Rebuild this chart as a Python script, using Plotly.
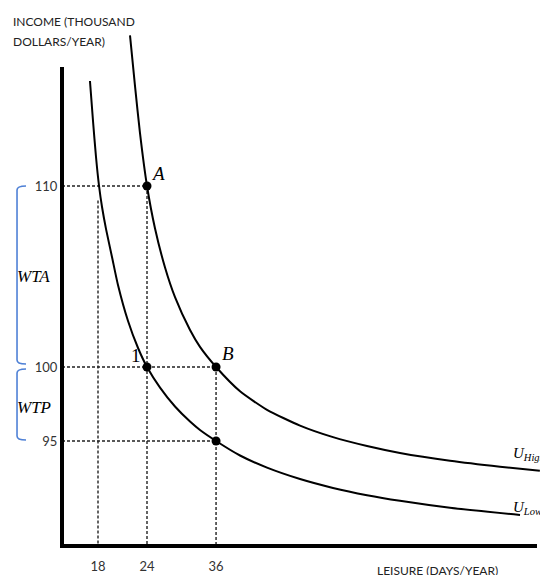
import numpy as np
import plotly.graph_objects as go

# ---------------- data ----------------
# Leisure (days/year) and income (thousand $/year) along each indifference curve
HIGH_DAYS = [21.72, 22.37, 23.03, 24.0, 25.15, 26.68, 28.29, 30.90, 32.76, 36.0,
             41.44, 48.56, 58.94, 71.54, 87.35, 106.0, 142.2, 190.7, 241.0]
HIGH_INCOME = [118.32, 115.52, 112.93, 110.0, 107.67, 105.50, 103.86, 102.04, 101.11, 100.0,
               98.36, 97.11, 96.04, 95.26, 94.66, 94.19, 93.66, 93.26, 92.99]
LOW_DAYS = [17.17, 17.48, 17.79, 18.11, 18.43, 18.87, 19.54, 20.24, 21.47, 22.77, 24.0,
            25.91, 28.29, 30.90, 32.76, 36.0, 41.44, 48.56, 58.94, 71.54, 87.35, 106.0,
            142.2, 214.5]
LOW_INCOME = [115.80, 113.59, 111.60, 110.0, 108.84, 107.62, 106.08, 104.53, 102.54, 101.05, 100.0,
              98.61, 97.33, 96.31, 95.74, 95.0, 94.02, 93.20, 92.43, 91.83, 91.34, 90.96,
              90.49, 90.0]

POINT_LABELS = ["A", "1", "B", ""]
POINT_DAYS = [24, 24, 36, 36]
POINT_INCOME = [110, 100, 100, 95]

X_TICKS = [18, 24, 36]
Y_TICKS = [110, 100, 95]

# guide lines: horizontal (income -> days where it stops), vertical (days -> top income)
GUIDE_H = [(110, 24), (100, 36), (95, 36)]
GUIDE_V = [(18, 109.2), (24, 110), (36, 100)]

# ---------------- scales ----------------
X_MIN, X_MAX = 14.57, 241.2
Y_RANGE = [0, 546]


def ys(v):
    """Schematic (two-slope) income scale used by the diagram."""
    v = np.asarray(v, dtype=float)
    return 179 + np.where(v >= 100, (v - 100) * 18.1, (v - 100) * 14.8)


def ypaper(v):
    return float(ys(v)) / Y_RANGE[1]


def xpaper_px(px):
    return (px - 62) / 478.0


fig = go.Figure()

# guide lines (dashed)
for inc, d in GUIDE_H:
    fig.add_trace(go.Scatter(x=[X_MIN, d], y=ys([inc, inc]), mode="lines",
                             line=dict(color="#222", width=1.4, dash="3px,2px"),
                             hoverinfo="skip"))
for d, inc in GUIDE_V:
    fig.add_trace(go.Scatter(x=[d, d], y=[float(ys(inc)), Y_RANGE[0]], mode="lines",
                             line=dict(color="#222", width=1.4, dash="3px,2px"),
                             hoverinfo="skip"))

# indifference curves
for dd, ii in [(HIGH_DAYS, HIGH_INCOME), (LOW_DAYS, LOW_INCOME)]:
    fig.add_trace(go.Scatter(x=dd, y=ys(ii), mode="lines",
                             line=dict(color="black", width=2, shape="spline", smoothing=0.6),
                             hoverinfo="skip"))

# points
fig.add_trace(go.Scatter(x=POINT_DAYS, y=ys(POINT_INCOME), mode="markers",
                         marker=dict(color="black", size=9), hoverinfo="skip"))

serif = "Liberation Serif"
label_offsets = {"A": (2, 0, "left"), "1": (-4, -1, "right"), "B": (4, 1, "left")}
for lab, d, inc in zip(POINT_LABELS, POINT_DAYS, POINT_INCOME):
    if not lab:
        continue
    xs, ysh, anc = label_offsets[lab]
    fig.add_annotation(x=np.log10(d), y=float(ys(inc)), text=lab if lab == "1" else f"<i>{lab}</i>",
                       showarrow=False, xanchor=anc, yanchor="bottom", xshift=xs, yshift=ysh,
                       font=dict(family=serif, size=19, color="black"))

# curve labels
fig.add_annotation(x=np.log10(203), y=float(ys(94.1)), text="<i>U<sub>High</sub></i>",
                   showarrow=False, xanchor="left", yanchor="middle",
                   font=dict(family=serif, size=15, color="black"))
fig.add_annotation(x=np.log10(203), y=float(ys(90.5)), text="<i>U<sub>Low</sub></i>",
                   showarrow=False, xanchor="left", yanchor="middle",
                   font=dict(family=serif, size=15, color="black"))

# axes lines (thick)
fig.add_shape(type="path", xref="paper", yref="paper",
              path=f"M 0,{(546-67)/546:.4f} L 0,0 L {xpaper_px(537):.4f},0",
              line=dict(color="black", width=4))

# braces for WTA / WTP
blue = "#4f81d6"
xl, xh = xpaper_px(17), xpaper_px(26)
r = 4 / 546
for top, bot in [(ypaper(110), ypaper(100) + 3 / 546), (ypaper(100) - 2 / 546, ypaper(95) + 1 / 546)]:
    fig.add_shape(type="path", xref="paper", yref="paper",
                  path=(f"M {xh:.4f},{top:.4f} Q {xl:.4f},{top:.4f} {xl:.4f},{top - r:.4f} "
                        f"L {xl:.4f},{bot + r:.4f} Q {xl:.4f},{bot:.4f} {xh:.4f},{bot:.4f}"),
                  line=dict(color=blue, width=1.6))

fig.add_annotation(xref="paper", yref="paper", x=xpaper_px(15), y=ypaper(105),
                   text="<i>WTA</i>", showarrow=False, xanchor="left", yanchor="middle",
                   font=dict(family=serif, size=17, color="black"))
fig.add_annotation(xref="paper", yref="paper", x=xpaper_px(15), y=ypaper(97.5) - 3 / 546,
                   text="<i>WTP</i>", showarrow=False, xanchor="left", yanchor="middle",
                   font=dict(family=serif, size=17, color="black"))

# axis titles
sans = "Lato"
fig.add_annotation(xref="paper", yref="paper", x=xpaper_px(11), y=(546 - 22) / 546,
                   text="INCOME (THOUSAND", showarrow=False, xanchor="left", yanchor="middle",
                   font=dict(family=sans, size=12, color="#222"))
fig.add_annotation(xref="paper", yref="paper", x=xpaper_px(11), y=(546 - 42) / 546,
                   text="DOLLARS/YEAR)", showarrow=False, xanchor="left", yanchor="middle",
                   font=dict(family=sans, size=12, color="#222"))
fig.add_annotation(xref="paper", yref="paper", x=xpaper_px(437), y=(546 - 570) / 546,
                   text="LEISURE (DAYS/YEAR)", showarrow=False, xanchor="center", yanchor="middle",
                   font=dict(family=sans, size=12, color="#222"))

fig.update_layout(width=540, height=575, margin=dict(l=62, r=0, t=0, b=29),
                  plot_bgcolor="white", paper_bgcolor="white", showlegend=False)
fig.update_xaxes(type="log", range=[np.log10(X_MIN), np.log10(X_MAX)],
                 tickvals=X_TICKS, ticktext=[str(t) for t in X_TICKS],
                 showgrid=False, zeroline=False, showline=False,
                 ticks="outside", ticklen=8, tickcolor="rgba(0,0,0,0)",
                 tickfont=dict(family=sans, size=13, color="#333"))
fig.update_yaxes(range=Y_RANGE, tickvals=ys(Y_TICKS), ticktext=[str(t) for t in Y_TICKS],
                 showgrid=False, zeroline=False, showline=False,
                 ticks="outside", ticklen=1, tickcolor="rgba(0,0,0,0)",
                 tickfont=dict(family=sans, size=13, color="#333"))

fig.write_html("out.html", config={"displayModeBar": False},
               post_script="document.body.style.margin='0';")
